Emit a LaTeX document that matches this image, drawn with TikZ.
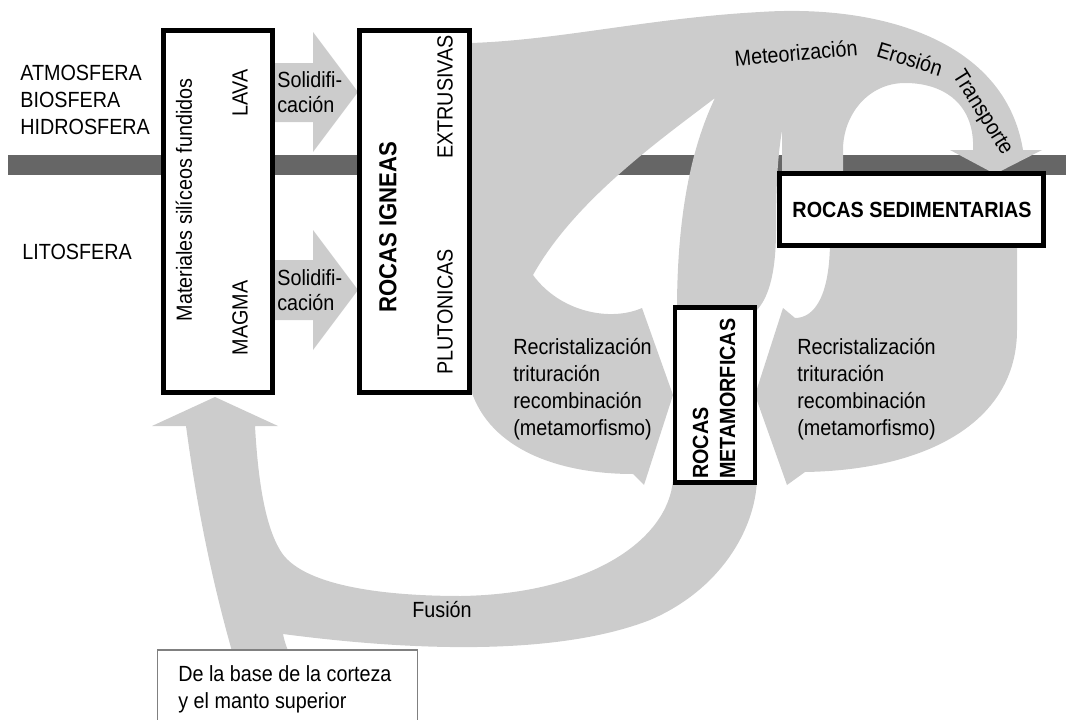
\documentclass[tikz,border=0pt]{standalone}
\usepackage{fontspec}
\setmainfont{Liberation Sans}[FakeStretch=0.9]
\definecolor{flowgray}{HTML}{CCCCCC}
\definecolor{crustgray}{HTML}{666666}
\newcommand\lblfont{\fontsize{12.5}{15.4}\selectfont}
\newcommand\bigfont{\fontsize{14}{17}\selectfont}

\begin{document}
\begin{tikzpicture}[x=0.02cm,y=-0.02cm,
  flow/.style={fill=flowgray,draw=none},
  rock box/.style={rectangle,draw,line width=2.6pt,fill=white,inner sep=0pt},
  lbl/.style={font=\lblfont,inner sep=0pt,align=left},
  bold lbl/.style={lbl,font=\lblfont\bfseries}]

  \useasboundingbox (0,0) rectangle (1066,720);
  \clip (0,0) rectangle (1066,720);

  %Limit between atmosphere and lithosphere%
  \fill[crustgray] (8,155) rectangle (1066,175);

  %Solidification arrows%
  \fill[flow] (268,63) -- (313,63) -- (313,32) -- (358,92) -- (313,152)
    -- (313,122) -- (268,122) -- cycle;
  \fill[flow] (268,260) -- (313,260) -- (313,230) -- (358,290) -- (313,350)
    -- (313,320) -- (268,320) -- cycle;

  %From the igneous rocks: weathering arch and metamorphism
  \fill[flow] (471,43) .. controls (560,40) and (650,18) .. (760,12)
    .. controls (880,4) and (1005,40) .. (1023,150)
    -- (1042,150) -- (995,174) -- (950,150) -- (973,150)
    .. controls (975,105) and (945,83) .. (905,83)
    .. controls (868,83) and (843,115) .. (843,150)
    -- (843,174) -- (782,174) -- (782,125)
    .. controls (783,112) and (786,103) .. (791,94)
    .. controls (779,130) and (776,170) .. (776,230)
    .. controls (776,280) and (766,300) .. (757,310)
    -- (677,310)
    .. controls (677,220) and (690,150) .. (715,98)
    .. controls (660,140) and (575,200) .. (533,275)
    .. controls (560,312) and (610,322) .. (642,308)
    -- (673,395) -- (644,485) -- (633,474)
    .. controls (560,474) and (490,450) .. (471,390) -- cycle;

  %From the sedimentary rocks to metamorphism%
  \fill[flow] (830,240) .. controls (830,295) and (815,318) .. (795,318)
    -- (783,308) -- (755,395) -- (787,485) -- (805,472)
    .. controls (930,470) and (1017,420) .. (1017,330) -- (1017,240) -- cycle;

  %Fusion back to the molten materials%
  \fill[flow] (673,480) .. controls (668,540) and (590,594) .. (461,596)
    .. controls (380,596) and (300,585) .. (280,550)
    .. controls (265,525) and (258,480) .. (255,426)
    -- (278,426) -- (215,397) -- (152,426) -- (186,426)
    .. controls (192,470) and (205,560) .. (236,665)
    -- (294,665) .. controls (290,655) and (285,645) .. (283,634)
    .. controls (420,652) and (560,655) .. (650,620)
    .. controls (720,590) and (755,530) .. (757,480) -- cycle;

  %Boxes%
  \node[rock box,minimum width=2.18cm,minimum height=7.24cm] (materiales) at (218,211.5) {};
  \node[rock box,minimum width=2.2cm,minimum height=7.24cm] (igneas) at (414.5,211.5) {};
  \node[rock box,minimum width=5.28cm,minimum height=1.44cm] (sedimentarias) at (911.5,209.5) {};
  \node[rock box,minimum width=1.6cm,minimum height=3.5cm] (metamorficas) at (715,395) {};
  \node[rectangle,draw=black!50,line width=0.8pt,fill=white,
    minimum width=5.2cm,minimum height=2.1cm] (base) at (287.5,702.5) {};

  %Spheres%
  \node[lbl,anchor=west] (spheres) at (20,100) {ATMOSFERA\\BIOSFERA\\HIDROSFERA};
  \node[lbl,anchor=west] (lito) at (22,252) {LITOSFERA};

  %Texts in the boxes%
  \node[lbl,rotate=90] (materialestxt) at (184,200) {Materiales silíceos fundidos};
  \node[lbl,rotate=90] (lava) at (240,93) {LAVA};
  \node[lbl,rotate=90] (magma) at (240,318) {MAGMA};
  \node[lbl,rotate=90,font=\bigfont\bfseries] (igneastxt) at (388,227) {ROCAS IGNEAS};
  \node[lbl,rotate=90] (extrusivas) at (445,97) {EXTRUSIVAS};
  \node[lbl,rotate=90] (plutonicas) at (445,312) {PLUTONICAS};
  \node[bold lbl] (sedimentariastxt) at (912,210) {ROCAS SEDIMENTARIAS};
  \node[bold lbl,rotate=90,anchor=west] (metamorficastxt) at (714,479) {ROCAS\\METAMORFICAS};
  \node[lbl,anchor=north west] (basetxt) at (178,665) {De la base de la corteza\\y el manto superior};

  %Texts on the flows%
  \node[lbl,anchor=west,font=\fontsize{12.5}{14.2}\selectfont] (solid1) at (277,92) {Solidifi-\\cación};
  \node[lbl,anchor=west,font=\fontsize{12.5}{14.2}\selectfont] (solid2) at (277,290) {Solidifi-\\cación};
  \node[lbl,rotate=5] (meteor) at (796,53) {Meteorización};
  \node[lbl,rotate=-17] (erosion) at (910,59) {Erosión};
  \node[lbl,rotate=-58] (transporte) at (982,113) {Transporte};
  \node[lbl,anchor=west] (recris1) at (513,389) {Recristalización\\trituración\\recombinación\\(metamorfismo)};
  \node[lbl,anchor=west] (recris2) at (797,389) {Recristalización\\trituración\\recombinación\\(metamorfismo)};
  \node[lbl] (fusion) at (442,610) {Fusión};

\end{tikzpicture}
\end{document}
